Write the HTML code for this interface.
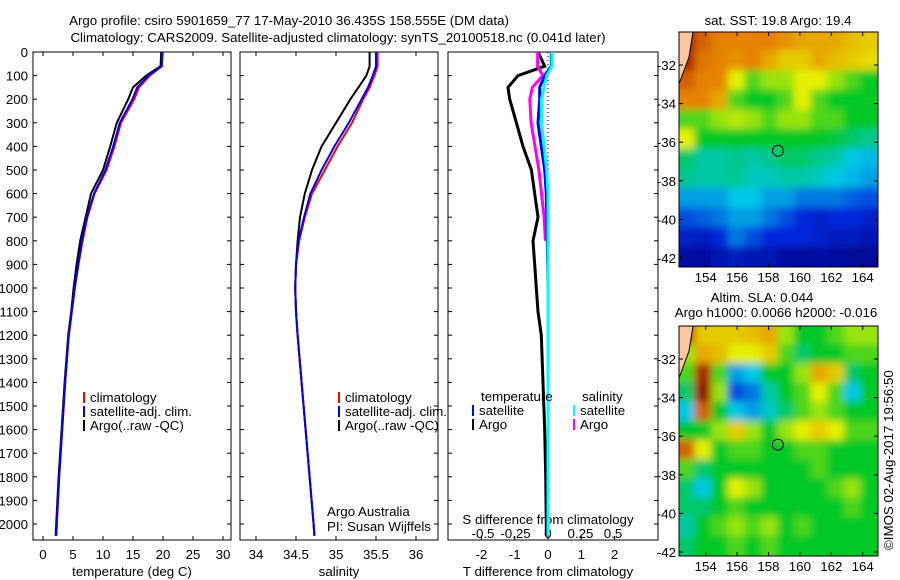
<!DOCTYPE html>
<html><head><meta charset="utf-8"><style>
body{margin:0;background:#fff;width:900px;height:580px;overflow:hidden}
svg{display:block;font-family:"Liberation Sans",sans-serif;font-size:13.3px}
</style></head><body>
<svg id="fig" width="900" height="580" viewBox="0 0 900 580">
<defs><filter id="bl" x="0" y="0" width="100%" height="100%"><feGaussianBlur stdDeviation="4"/></filter>
<clipPath id="c1"><rect x="679" y="32" width="199" height="235"/></clipPath>
<clipPath id="c2"><rect x="679" y="326" width="199" height="230"/></clipPath></defs>
<text x="289" y="25" text-anchor="middle">Argo profile: csiro 5901659_77 17-May-2010 36.435S 158.555E (DM data)</text>
<text x="338" y="42" text-anchor="middle">Climatology: CARS2009. Satellite-adjusted climatology: synTS_20100518.nc (0.041d later)</text>
<text x="778" y="25" text-anchor="middle">sat. SST: 19.8 Argo: 19.4</text>
<text x="762" y="302" text-anchor="middle">Altim. SLA: 0.044</text>
<text x="776" y="317" text-anchor="middle">Argo h1000: 0.0066 h2000: -0.016</text>
<text transform="translate(893,550) rotate(-90)">©IMOS 02-Aug-2017 19:56:50</text>
<g id="g"></g>
</svg>
<script>
// depth levels
const depths=[0,60,100,150,200,300,400,500,600,700,800,900,1000,1100,1200,1400,1600,1800,2000,2050];
const tClim=[19.9,19.8,17.8,16.0,15.2,13.0,11.9,10.6,8.6,7.4,6.6,5.9,5.3,4.8,4.3,3.7,3.2,2.7,2.3,2.2];
const tSat=[19.9,19.8,17.6,15.7,14.9,12.8,11.7,10.4,8.5,7.3,6.5,5.9,5.3,4.8,4.3,3.7,3.2,2.7,2.3,2.2];
const tArgo=[19.7,19.6,17.2,15.0,14.2,12.3,11.2,10.0,8.0,7.1,6.2,5.6,5.1,4.7,4.2,3.6,3.1,2.6,2.2,2.1];
const sClim=[35.52,35.52,35.48,35.42,35.34,35.20,35.02,34.86,34.70,34.61,34.54,34.50,34.49,34.50,34.52,34.57,34.62,34.67,34.72,34.73];
const sSat=[35.50,35.50,35.46,35.40,35.32,35.16,34.98,34.82,34.68,34.60,34.53,34.50,34.49,34.50,34.52,34.57,34.62,34.67,34.72,34.73];
const sArgo=[35.42,35.42,35.38,35.28,35.18,35.00,34.82,34.70,34.61,34.55,34.52,34.50,34.49,34.50,34.52,34.57,34.62,34.67,34.72,34.73];
const dTArgo=[-0.3,-0.1,-0.9,-1.2,-1.15,-0.95,-0.75,-0.5,-0.4,-0.3,-0.45,-0.4,-0.35,-0.3,-0.2,-0.15,-0.1,-0.07,-0.05,-0.05];
const dTSat=[0.1,0.1,-0.1,-0.25,-0.25,-0.3,-0.2,-0.1,-0.05,-0.04,-0.02,-0.01,0,0,0,0,0,0,0,0];
const dSArgo=[-0.08,-0.08,-0.04,-0.12,-0.14,-0.13,-0.1,-0.07,-0.05,-0.03,-0.02];
const dSSat=[0.03,0.03,-0.01,-0.03,-0.05,-0.05,-0.03,-0.01,0,0,0,0,0,0,0,0,0,0,0,0];
const sstGrid=[
[.95,.85,.8,.8,.8,.8,.78,.75,.75,.75,.72,.7],[.95,.82,.8,.78,.8,.75,.7,.7,.75,.72,.7,.68],
[.85,.8,.8,.65,.55,.6,.6,.65,.65,.6,.55,.5],[.8,.8,.75,.55,.5,.5,.55,.65,.55,.5,.5,.5],
[.55,.55,.6,.62,.6,.55,.6,.6,.55,.55,.5,.5],[.65,.5,.5,.5,.5,.5,.5,.5,.5,.48,.45,.42],
[.45,.4,.4,.42,.4,.42,.45,.45,.42,.4,.35,.33],[.42,.4,.4,.42,.38,.38,.4,.4,.38,.35,.33,.3],
[.3,.3,.3,.35,.35,.3,.3,.25,.25,.25,.22,.2],[.2,.22,.25,.3,.3,.25,.2,.15,.12,.15,.15,.12],
[.12,.1,.15,.25,.2,.15,.15,.15,.12,.1,.1,.08],[.05,.05,.08,.1,.08,.08,.05,.05,.05,.05,.03,.03]];
const slaGrid=[
[.9,.7,.7,.7,.72,.75,.6,.5,.5,.55,.6,.6],[.6,.75,.72,.65,.65,.7,.55,.45,.5,.5,.55,.55],
[.55,.95,.55,.3,.35,.5,.5,.6,.75,.7,.45,.5],[.45,1,.6,.2,.25,.4,.5,.55,.65,.55,.35,.5],
[.35,.85,.5,.35,.3,.38,.45,.55,.6,.55,.5,.5],[.5,.5,.6,.7,.6,.5,.6,.65,.7,.65,.55,.55],
[.85,.65,.5,.55,.55,.5,.5,.55,.55,.5,.5,.5],[.55,.45,.5,.5,.5,.5,.5,.5,.55,.5,.5,.5],
[.45,.35,.5,.65,.6,.5,.5,.5,.5,.55,.6,.5],[.45,.45,.5,.55,.5,.5,.5,.5,.5,.5,.55,.5],
[.4,.5,.55,.6,.55,.6,.5,.55,.5,.5,.5,.5],[.45,.5,.5,.55,.5,.55,.5,.5,.5,.5,.5,.5]];
const depthTicks=[0,100,200,300,400,500,600,700,800,900,1000,1100,1200,1300,1400,1500,1600,1700,1800,1900,2000];
const tTicks=[0,5,10,15,20,25,30];
const sTicks=[34,34.5,35,35.5,36];
const dTTicks=[-2,-1,0,1,2];
const dSTicks=[-0.5,-0.25,0,0.25,0.5];
const lonTicks=[154,156,158,160,162,164];
const latTicks=[-32,-34,-36,-38,-40,-42];
const argoPos=[158.6,-36.44];

const NS='http://www.w3.org/2000/svg',G=document.getElementById('g');
function mk(t,a,p){const e=document.createElementNS(NS,t);for(const k in a)e.setAttribute(k,a[k]);(p||G).appendChild(e);return e;}
const yD=d=>52+d*0.236;
const xT=v=>43+v*6, xS=v=>256+(v-34)*80, xDT=v=>548+v*33.3, xDS=v=>548+v*130;
function frame(x0,x1,name){const r=mk('rect',{x:x0,y:52,width:x1-x0,height:488,fill:'none',stroke:'#000'});

depthTicks.forEach(d=>{mk('line',{x1:x0,x2:x0+4,y1:yD(d),y2:yD(d),stroke:'#000'});mk('line',{x1:x1,x2:x1-4,y1:yD(d),y2:yD(d),stroke:'#000'});});}
frame(33,231,'temperature-axes');frame(240,438,'salinity-axes');frame(448,658,'difference-axes');
depthTicks.forEach(d=>{const t=mk('text',{x:28,y:yD(d)+5,'text-anchor':'end'});t.textContent=d;
});
function xt(ticks,f,y,x0,x1,name,top){ticks.forEach(v=>{const x=f(v);
mk('line',{x1:x,x2:x,y1:540,y2:536,stroke:'#000'});if(top)mk('line',{x1:x,x2:x,y1:52,y2:56,stroke:'#000'});
const t=mk('text',{x:x,y:y,'text-anchor':'middle'});t.textContent=v;});}
xt(tTicks,xT,559,33,231,'temperature-tick-label',1);
xt(sTicks,xS,559,240,438,'salinity-tick-label',1);
xt(dTTicks,xDT,559,448,658,'t-diff-tick-label',0);
dSTicks.forEach(v=>{const t=mk('text',{x:xDS(v),y:538,'text-anchor':'middle'});t.textContent=v;
});
[['temperature (deg C)',132],['salinity',339],['T difference from climatology',548]].forEach(([s,x])=>{const t=mk('text',{x:x,y:576,'text-anchor':'middle'});t.textContent=s;});
{const t=mk('text',{x:548,y:524,'text-anchor':'middle'});t.textContent='S difference from climatology';}
mk('line',{x1:548,x2:548,y1:52,y2:540,stroke:'#000','stroke-dasharray':'1,3'});
function line(vals,f,col,w,name){const p=vals.map((v,i)=>f(v).toFixed(1)+','+yD(depths[i]).toFixed(1)).join(' ');
const e=mk('polyline',{points:p,fill:'none',stroke:col,'stroke-width':w});}
line(tArgo,xT,'#000',2,'temp-argo-line');line(tClim,xT,'#f00',2,'temp-clim-line');line(tSat,xT,'#00f',2,'temp-sat-line');
line(sArgo,xS,'#000',2,'sal-argo-line');line(sClim,xS,'#f00',2,'sal-clim-line');line(sSat,xS,'#00f',2,'sal-sat-line');
line(dTArgo,xDT,'#000',3,'tdiff-argo-line');line(dSArgo,xDS,'#f0f',3,'sdiff-argo-line');
line(dTSat,xDT,'#00f',3,'tdiff-sat-line');line(dSSat,xDS,'#0ff',3,'sdiff-sat-line');
function leg(x,y,col,s){mk('line',{x1:x,x2:x,y1:y-10,y2:y+1,stroke:col,'stroke-width':2});const t=mk('text',{x:x+6,y:y});t.textContent=s;}
[[84,'#f00','climatology'],[84,'#00f','satellite-adj. clim.'],[84,'#000','Argo(..raw -QC)']].forEach((a,i)=>{leg(a[0],402+i*14,a[1],a[2]);leg(a[0]+255,402+i*14,a[1],a[2]);});
{const t=mk('text',{x:481,y:401});t.textContent='temperature';const u=mk('text',{x:582,y:401});u.textContent='salinity';}
leg(473,415,'#00f','satellite');leg(473,429,'#000','Argo');leg(574,415,'#0ff','satellite');leg(574,429,'#f0f','Argo');
{const t=mk('text',{x:327,y:516});t.textContent='Argo Australia';
const u=mk('text',{x:327,y:531});u.textContent='PI: Susan Wijffels';}
function jet(v){const st=[[0,[0,0,130]],[.15,[0,40,220]],[.35,[0,200,230]],[.5,[0,200,40]],[.65,[230,240,0]],[.8,[230,130,0]],[1,[150,0,0]]];
for(let i=1;i<st.length;i++)if(v<=st[i][0]){const a=st[i-1],b=st[i],t=(v-a[0])/(b[0]-a[0]);return 'rgb('+a[1].map((c,k)=>Math.round(c+(b[1][k]-c)*t)).join(',')+')';}return 'rgb(150,0,0)';}
function map(grid,y0,h,clip,name){const x0=679,w=199,g=mk('g',{'clip-path':'url(#'+clip+')'});
const gg=mk('g',{filter:'url(#bl)'},g);const nr=grid.length,nc=grid[0].length,cw=w/nc,ch=h/nr;
mk('rect',{x:x0,y:y0,width:w,height:h,fill:jet(0.5)},gg);
grid.forEach((row,r)=>row.forEach((v,c)=>{const e=mk('rect',{x:x0+c*cw-(c==0?20:1),y:y0+r*ch-(r==0?20:1),width:cw+2+(c==0||c==nc-1?20:0),height:ch+2+(r==0||r==nr-1?20:0),fill:jet(v)},gg);}));
const lon=v=>x0+(v-152.3)*15.7,lat=v=>y0+33-(v+32)*19.3;
mk('path',{d:`M${x0},${y0} L${x0+14},${y0} L${x0+10},${y0+25} L${x0+3},${y0+44} L${x0},${y0+52}Z`,fill:'#f9c89e',stroke:'#000'},g);
const c=mk('circle',{cx:lon(argoPos[0]),cy:lat(argoPos[1]),r:5.5,fill:'none',stroke:'#000'});
mk('rect',{x:x0,y:y0,width:w,height:h,fill:'none',stroke:'#000'});
lonTicks.forEach(v=>{mk('line',{x1:lon(v),x2:lon(v),y1:y0+h,y2:y0+h-4,stroke:'#000'});mk('line',{x1:lon(v),x2:lon(v),y1:y0,y2:y0+4,stroke:'#000'});
const t=mk('text',{x:lon(v),y:y0+h+15,'text-anchor':'middle'});t.textContent=v;});
latTicks.forEach(v=>{mk('line',{x1:x0,x2:x0+4,y1:lat(v),y2:lat(v),stroke:'#000'});mk('line',{x1:x0+w,x2:x0+w-4,y1:lat(v),y2:lat(v),stroke:'#000'});
const t=mk('text',{x:x0-3,y:lat(v)+5,'text-anchor':'end'});t.textContent=v;});}
map(sstGrid,32,235,'c1','sst-map');map(slaGrid,326,230,'c2','sla-map');
</script>
</body></html>
